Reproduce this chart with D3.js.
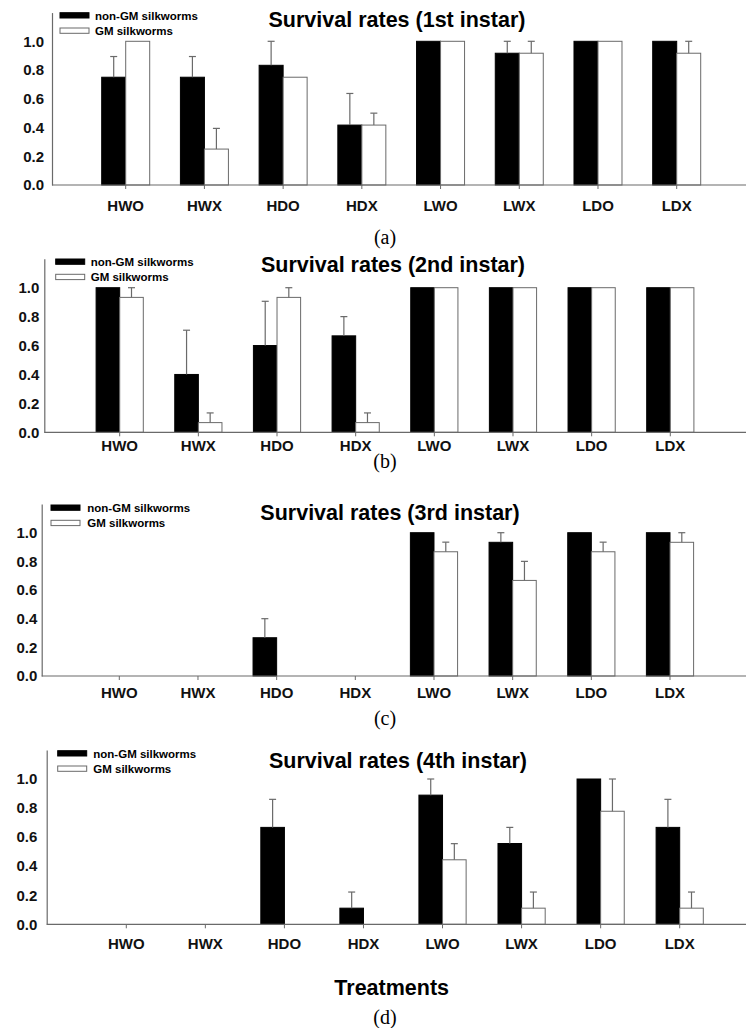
<!DOCTYPE html>
<html>
<head>
<meta charset="utf-8">
<script src="https://cdn.jsdelivr.net/npm/d3@7"></script>
<style>
  body { margin: 0; background: #fff; }
  svg { display: block; }
  .tick text { font-family: "Liberation Sans", Arial, sans-serif; font-weight: bold; font-size: 15px; fill: #111; }
</style>
</head>
<body>
<div id="chart"></div>
<script>
var categories = ["HWO", "HWX", "HDO", "HDX", "LWO", "LWX", "LDO", "LDX"];
var seriesNames = ["non-GM silkworms", "GM silkworms"];
var titles = ["Survival rates (1st instar)", "Survival rates (2nd instar)",
              "Survival rates (3rd instar)", "Survival rates (4th instar)"];
var panelLabels = ["(a)", "(b)", "(c)", "(d)"];
var yTicks = [0, 0.2, 0.4, 0.6, 0.8, 1.0];

// 1st instar
var nonGM1 = [0.75, 0.75, 0.833, 0.417, 1, 0.917, 1, 1];
var nonGMErr1 = [0.144, 0.144, 0.167, 0.22, 0, 0.083, 0, 0];
var gm1 = [1, 0.25, 0.75, 0.417, 1, 0.917, 1, 0.917];
var gmErr1 = [0, 0.144, 0, 0.083, 0, 0.083, 0, 0.083];
// 2nd instar
var nonGM2 = [1, 0.4, 0.6, 0.667, 1, 1, 1, 1];
var nonGMErr2 = [0, 0.306, 0.306, 0.133, 0, 0, 0, 0];
var gm2 = [0.933, 0.067, 0.933, 0.067, 1, 1, 1, 1];
var gmErr2 = [0.067, 0.067, 0.067, 0.067, 0, 0, 0, 0];
// 3rd instar
var nonGM3 = [0, 0, 0.267, 0, 1, 0.933, 1, 1];
var nonGMErr3 = [0, 0, 0.133, 0, 0, 0.067, 0, 0];
var gm3 = [0, 0, 0, 0, 0.867, 0.667, 0.867, 0.933];
var gmErr3 = [0, 0, 0, 0, 0.067, 0.133, 0.067, 0.067];
// 4th instar
var nonGM4 = [0, 0, 0.667, 0.111, 0.889, 0.556, 1, 0.667];
var nonGMErr4 = [0, 0, 0.193, 0.111, 0.111, 0.111, 0, 0.193];
var gm4 = [0, 0, 0, 0, 0.444, 0.111, 0.778, 0.111];
var gmErr4 = [0, 0, 0, 0, 0.111, 0.111, 0.222, 0.111];

var panelValues = [[nonGM1, gm1], [nonGM2, gm2], [nonGM3, gm3], [nonGM4, gm4]];
var panelErrors = [[nonGMErr1, gmErr1], [nonGMErr2, gmErr2], [nonGMErr3, gmErr3], [nonGMErr4, gmErr4]];

// layout of each panel (pixels)
var layout = [
  {axisX: 52,   y0: 185,   y1: 41.3,  first: 125.7, last: 676.7, barW: 24,   labPad: 11.7, tickRight: 44,
   titleX: 397, titleY: 26.5, legX: 60,   legY: 12.7, legTx: 95,   subY: 236.5},
  {axisX: 44.3, y0: 432.3, y1: 287.7, first: 119.7, last: 670.3, barW: 23.6, labPad: 3.7,  tickRight: 39.3,
   titleX: 393, titleY: 271.5, legX: 55.7, legY: 259,  legTx: 90.7, subY: 461},
  {axisX: 41.7, y0: 676,   y1: 532.7, first: 119.3, last: 670,   barW: 23.6, labPad: 7,    tickRight: 37.3,
   titleX: 390, titleY: 520, legX: 51,   legY: 505,  legTx: 87.3, subY: 718},
  {axisX: 46.7, y0: 924.3, y1: 779,   first: 126.3, last: 679.7, barW: 23.6, labPad: 10,   tickRight: 37.3,
   titleX: 398, titleY: 768, legX: 57.7, legY: 750.7, legTx: 93.3, subY: 1017}
];

var W = 747, H = 1028, rightEdge = 746;
var grey = "#6a6a6a";
var sans = "'Liberation Sans', Arial, sans-serif";

var svg = d3.select("#chart").append("svg")
    .attr("width", W)
    .attr("height", H);

svg.append("rect").attr("width", W).attr("height", H).attr("fill", "#fff");

layout.forEach(function(L, p) {
    var g = svg.append("g").attr("class", "panel");

    var step = (L.last - L.first) / (categories.length - 1);
    var pin = 1 - 2 * L.barW / step;
    var x = d3.scaleBand()
        .domain(categories)
        .range([L.first - step / 2, L.last + step / 2])
        .paddingInner(pin)
        .paddingOuter(pin / 2);
    var xSub = d3.scaleBand()
        .domain([0, 1])
        .range([0, x.bandwidth()]);

    var yTop = L.y0 - 1.2 * (L.y0 - L.y1);
    var y = d3.scaleLinear().domain([0, 1.2]).range([L.y0, yTop]);

    // bars
    var groups = g.selectAll(".grp")
        .data(categories)
        .enter().append("g")
        .attr("class", "grp")
        .attr("transform", function(d) { return "translate(" + x(d) + ",0)"; });

    groups.selectAll("rect")
        .data(function(d, i) {
            return [0, 1].map(function(s) {
                return {s: s, v: panelValues[p][s][i], e: panelErrors[p][s][i]};
            }).filter(function(b) { return b.v > 0; });
        })
        .enter().append("rect")
        .attr("x", function(d) { return xSub(d.s); })
        .attr("y", function(d) { return y(d.v); })
        .attr("width", xSub.bandwidth())
        .attr("height", function(d) { return y(0) - y(d.v); })
        .attr("fill", function(d) { return d.s === 0 ? "#000" : "#fff"; })
        .attr("stroke", function(d) { return d.s === 0 ? "#000" : grey; })
        .attr("stroke-width", 1);

    // error bars
    var errs = groups.selectAll(".err")
        .data(function(d, i) {
            return [0, 1].map(function(s) {
                return {s: s, v: panelValues[p][s][i], e: panelErrors[p][s][i]};
            }).filter(function(b) { return b.e > 0; });
        })
        .enter().append("g")
        .attr("class", "err")
        .attr("stroke", grey)
        .attr("stroke-width", 1.2);

    errs.append("line")
        .attr("x1", function(d) { return xSub(d.s) + xSub.bandwidth() / 2; })
        .attr("x2", function(d) { return xSub(d.s) + xSub.bandwidth() / 2; })
        .attr("y1", function(d) { return y(d.v); })
        .attr("y2", function(d) { return y(d.v + d.e); });

    errs.append("line")
        .attr("x1", function(d) { return xSub(d.s) + xSub.bandwidth() / 2 - 3.5; })
        .attr("x2", function(d) { return xSub(d.s) + xSub.bandwidth() / 2 + 3.5; })
        .attr("y1", function(d) { return y(d.v + d.e); })
        .attr("y2", function(d) { return y(d.v + d.e); });

    // x axis
    var xAxis = d3.axisBottom(x).tickSize(4).tickSizeOuter(0).tickPadding(L.labPad);
    var gx = g.append("g")
        .attr("transform", "translate(0," + L.y0 + ")")
        .call(xAxis);
    gx.select(".domain").remove();
    gx.selectAll(".tick line").attr("stroke", grey);
    g.append("line")
        .attr("x1", L.axisX).attr("x2", rightEdge)
        .attr("y1", L.y0).attr("y2", L.y0)
        .attr("stroke", grey).attr("stroke-width", 1.2);

    // y axis
    var yAxis = d3.axisLeft(y).tickValues(yTicks).tickFormat(d3.format(".1f"))
        .tickSize(0).tickSizeOuter(0).tickPadding(L.axisX - L.tickRight);
    var gy = g.append("g")
        .attr("transform", "translate(" + L.axisX + ",0)")
        .call(yAxis);
    gy.select(".domain").attr("stroke", grey).attr("stroke-width", 1.2);

    // title
    g.append("text")
        .attr("x", L.titleX).attr("y", L.titleY)
        .attr("text-anchor", "middle")
        .style("font-family", sans).style("font-weight", "bold").style("font-size", "21.5px")
        .text(titles[p]);

    // legend
    var leg = g.selectAll(".legend")
        .data(seriesNames)
        .enter().append("g")
        .attr("class", "legend")
        .attr("transform", function(d, i) { return "translate(0," + (L.legY + i * 15.3) + ")"; });
    leg.append("rect")
        .attr("x", L.legX).attr("y", 0)
        .attr("width", 29).attr("height", 5.3)
        .attr("fill", function(d, i) { return i === 0 ? "#000" : "#fff"; })
        .attr("stroke", function(d, i) { return i === 0 ? "#000" : grey; });
    leg.append("text")
        .attr("x", L.legTx).attr("y", 7)
        .style("font-family", sans).style("font-weight", "bold").style("font-size", "11.5px")
        .text(function(d) { return d; });

    // panel label
    g.append("text")
        .attr("x", 385).attr("y", L.subY)
        .attr("dy", "0.35em")
        .attr("text-anchor", "middle")
        .style("font-family", "'Liberation Serif', 'Times New Roman', serif")
        .style("font-size", "20px")
        .text(panelLabels[p]);
});

svg.append("text")
    .attr("x", 391.7).attr("y", 995)
    .attr("text-anchor", "middle")
    .style("font-family", sans).style("font-weight", "bold").style("font-size", "21.5px")
    .text("Treatments");
</script>
</body>
</html>
